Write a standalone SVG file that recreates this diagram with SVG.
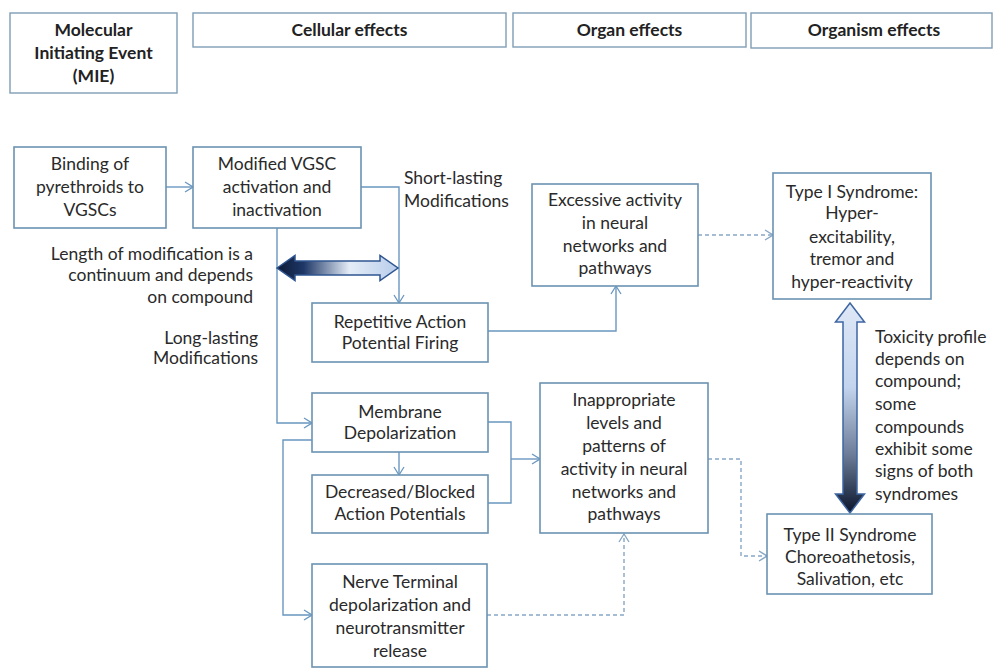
<svg xmlns="http://www.w3.org/2000/svg" width="993" height="669" viewBox="0 0 993 669">
  <defs>
    <style>
      .box { fill: #ffffff; stroke: #6b93b3; stroke-width: 1.6; }
      .hdr { fill: #ffffff; stroke: #7f9db6; stroke-width: 1.4; }
      text { font-family: Lato, "Open Sans", "Liberation Sans", sans-serif; fill: #2a2a2a; font-size: 17.5px; }
      .c { text-anchor: middle; }
      .r { text-anchor: end; }
      .b { font-weight: bold; fill: #222222; font-size: 17.5px; }
      .ln { fill: none; stroke: #6a97c0; stroke-width: 1.4; }
      .dash { fill: none; stroke: #86a6c6; stroke-width: 1.4; stroke-dasharray: 4 3; }
    </style>
    <marker id="arr" markerWidth="10" markerHeight="12" refX="9" refY="6" orient="auto" markerUnits="userSpaceOnUse">
      <path d="M1,1 L9,6 L1,11" fill="none" stroke="#6a97c0" stroke-width="1.3"/>
    </marker>
    <marker id="arrd" markerWidth="10" markerHeight="12" refX="9" refY="6" orient="auto" markerUnits="userSpaceOnUse">
      <path d="M1,1 L9,6 L1,11" fill="none" stroke="#86a6c6" stroke-width="1.3"/>
    </marker>
    <linearGradient id="gH" x1="0" y1="0" x2="1" y2="0">
      <stop offset="0" stop-color="#0d1a36"/>
      <stop offset="0.22" stop-color="#1e3767"/>
      <stop offset="0.6" stop-color="#e4ecf7"/>
      <stop offset="1" stop-color="#b8cdea"/>
    </linearGradient>
    <linearGradient id="gV" x1="0" y1="0" x2="0" y2="1">
      <stop offset="0" stop-color="#dfe8f6"/>
      <stop offset="0.4" stop-color="#c3d4ee"/>
      <stop offset="0.72" stop-color="#6d7d99"/>
      <stop offset="1" stop-color="#0a152c"/>
    </linearGradient>
  </defs>

  <rect width="993" height="669" fill="#ffffff"/>

  <!-- column headers -->
  <g id="hdr-mie">
    <rect class="hdr" x="10" y="13" width="167" height="80"/>
    <text class="c b" x="93.5" y="36">Molecular</text>
    <text class="c b" x="93.5" y="59">Initiating Event</text>
    <text class="c b" x="93.5" y="82">(MIE)</text>
  </g>
  <g id="hdr-cellular">
    <rect class="hdr" x="193" y="13" width="313" height="34"/>
    <text class="c b" x="349.5" y="36">Cellular effects</text>
  </g>
  <g id="hdr-organ">
    <rect class="hdr" x="513" y="13" width="233" height="34"/>
    <text class="c b" x="629.5" y="36">Organ effects</text>
  </g>
  <g id="hdr-organism">
    <rect class="hdr" x="751" y="13" width="241" height="35"/>
    <text class="c b" x="874" y="36">Organism effects</text>
  </g>

  <!-- connectors -->
  <g id="connectors">
    <path class="ln" d="M166,187 H193" marker-end="url(#arr)"/>
    <path class="ln" d="M361,187 H399 V303" marker-end="url(#arr)"/>
    <path class="ln" d="M277,228 V423 H312" marker-end="url(#arr)"/>
    <path class="ln" d="M312,440 H283 V615 H312" marker-end="url(#arr)"/>
    <path class="ln" d="M399,452 V475" marker-end="url(#arr)"/>
    <path class="ln" d="M488,422 H511 V503 H488"/>
    <path class="ln" d="M511,459 H540" marker-end="url(#arr)"/>
    <path class="ln" d="M488,331 H616 V286" marker-end="url(#arr)"/>
    <path class="dash" d="M698,235 H773" marker-end="url(#arrd)"/>
    <path class="dash" d="M708,459 H741 V556 H767" marker-end="url(#arrd)"/>
    <path class="dash" d="M487,615 H624 V534" marker-end="url(#arrd)"/>

    <!-- block double arrows -->
    <polygon points="277,268 295,255.5 295,261 380,261 380,255.5 398,268 380,280.5 380,275 295,275 295,280.5" fill="url(#gH)" stroke="#2f5590" stroke-width="1.5"/>
    <polygon points="850,303 864.5,322 857,322 857,494 864.5,494 850,513 835.5,494 843,494 843,322 835.5,322" fill="url(#gV)" stroke="#3d66a3" stroke-width="1.5"/>
  </g>

  <!-- free labels -->
  <g id="labels">
    <text x="404" y="184">Short-lasting</text>
    <text x="404" y="207">Modifications</text>
    <text class="r" x="253" y="260">Length of modification is a</text>
    <text class="r" x="253" y="281">continuum  and depends</text>
    <text class="r" x="253" y="303">on compound</text>
    <text class="r" x="258" y="344">Long-lasting</text>
    <text class="r" x="258" y="364">Modifications</text>
    <text x="875" y="343">Toxicity profile</text>
    <text x="875" y="365">depends on</text>
    <text x="875" y="387">compound;</text>
    <text x="875" y="410">some</text>
    <text x="875" y="433">compounds</text>
    <text x="875" y="455">exhibit some</text>
    <text x="875" y="477">signs of both</text>
    <text x="875" y="500">syndromes</text>
  </g>

  <!-- nodes -->
  <g id="n-binding">
    <rect class="box" x="14" y="147" width="152" height="81"/>
    <text class="c" x="90" y="170">Binding of</text>
    <text class="c" x="90" y="193">pyrethroids to</text>
    <text class="c" x="90" y="216">VGSCs</text>
  </g>
  <g id="n-modified">
    <rect class="box" x="193" y="147" width="168" height="81"/>
    <text class="c" x="277" y="170">Modified VGSC</text>
    <text class="c" x="277" y="193">activation and</text>
    <text class="c" x="277" y="216">inactivation</text>
  </g>
  <g id="n-repetitive">
    <rect class="box" x="312" y="303" width="176" height="59"/>
    <text class="c" x="400" y="328">Repetitive Action</text>
    <text class="c" x="400" y="349">Potential Firing</text>
  </g>
  <g id="n-excessive">
    <rect class="box" x="532" y="184" width="166" height="102"/>
    <text class="c" x="615" y="206">Excessive activity</text>
    <text class="c" x="615" y="229">in neural</text>
    <text class="c" x="615" y="252">networks  and</text>
    <text class="c" x="615" y="274">pathways</text>
  </g>
  <g id="n-type1">
    <rect class="box" x="773" y="173" width="158" height="126"/>
    <text class="c" x="852" y="198">Type I Syndrome:</text>
    <text class="c" x="852" y="219">Hyper-</text>
    <text class="c" x="852" y="243">excitability,</text>
    <text class="c" x="852" y="265">tremor  and</text>
    <text class="c" x="852" y="288">hyper-reactivity</text>
  </g>
  <g id="n-membrane">
    <rect class="box" x="312" y="393" width="176" height="59"/>
    <text class="c" x="400" y="418">Membrane</text>
    <text class="c" x="400" y="439">Depolarization</text>
  </g>
  <g id="n-decreased">
    <rect class="box" x="312" y="475" width="176" height="58"/>
    <text class="c" x="400" y="498">Decreased/Blocked</text>
    <text class="c" x="400" y="520">Action Potentials</text>
  </g>
  <g id="n-inappropriate">
    <rect class="box" x="540" y="383" width="168" height="150"/>
    <text class="c" x="624" y="406">Inappropriate</text>
    <text class="c" x="624" y="429">levels and</text>
    <text class="c" x="624" y="452">patterns of</text>
    <text class="c" x="624" y="475">activity in neural</text>
    <text class="c" x="624" y="498">networks  and</text>
    <text class="c" x="624" y="520">pathways</text>
  </g>
  <g id="n-nerve">
    <rect class="box" x="312" y="564" width="175" height="103"/>
    <text class="c" x="400" y="588">Nerve  Terminal</text>
    <text class="c" x="400" y="611">depolarization and</text>
    <text class="c" x="400" y="634">neurotransmitter</text>
    <text class="c" x="400" y="657">release</text>
  </g>
  <g id="n-type2">
    <rect class="box" x="767" y="514" width="165" height="80"/>
    <text class="c" x="850" y="541">Type II Syndrome</text>
    <text class="c" x="850" y="563">Choreoathetosis,</text>
    <text class="c" x="850" y="585">Salivation, etc</text>
  </g>
</svg>
